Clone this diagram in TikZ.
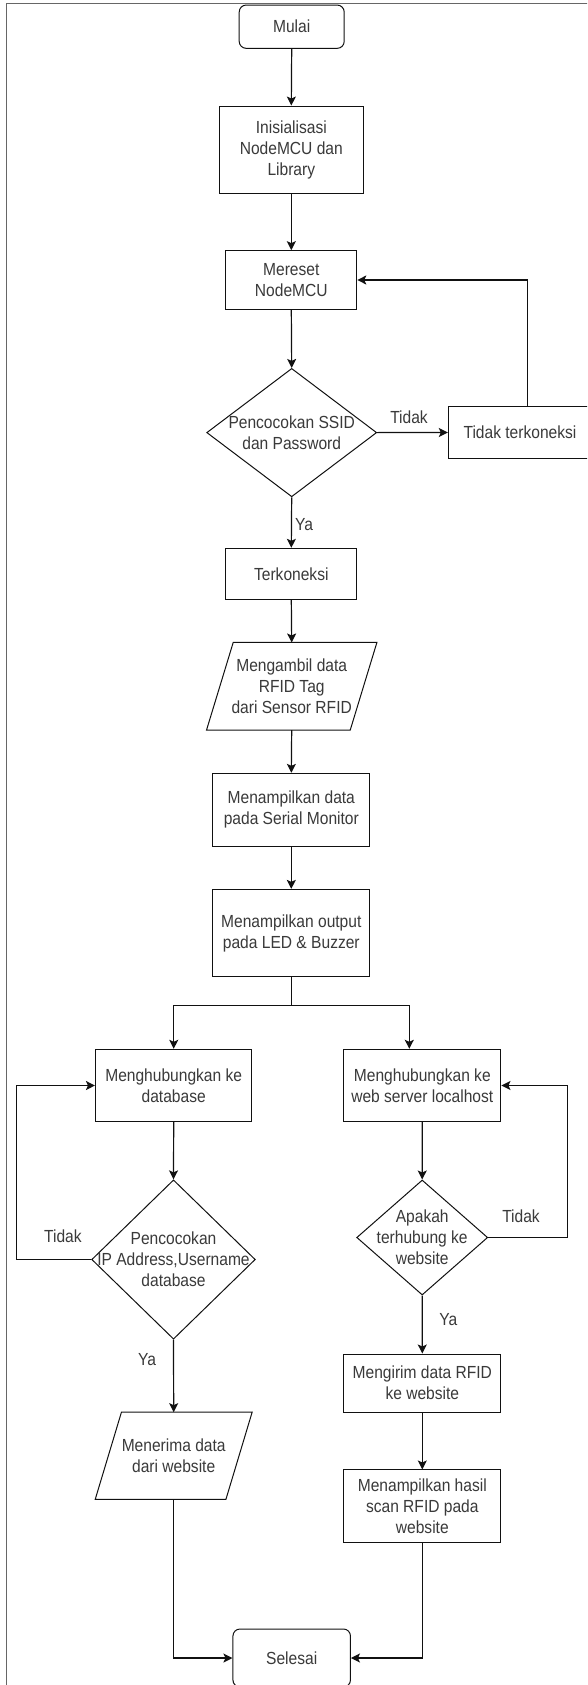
\documentclass[tikz,border=0pt]{standalone}
\usepackage{fontspec}
\setmainfont{Liberation Sans}[FakeStretch=0.89]
\usetikzlibrary{shapes.geometric,arrows.meta}
\definecolor{txt}{HTML}{3A3A3A}
\definecolor{ln}{HTML}{111111}
\definecolor{frm}{HTML}{666666}
\tikzset{
  every node/.style={font=\fontsize{17.5}{21}\selectfont, text=txt, align=center, inner sep=0pt},
  bx/.style n args={2}{draw=ln, line width=1pt, rectangle, minimum width=#1, minimum height=#2},
  term/.style n args={2}{draw=ln, line width=1pt, rectangle, rounded corners=7pt, minimum width=#1, minimum height=#2},
  dia/.style n args={2}{draw=ln, line width=1pt, diamond, minimum width=#1, minimum height=#2},
  pbox/.style n args={2}{rectangle, minimum width=#1, minimum height=#2},
  pshape/.style={draw=ln, line width=1pt, line join=miter},
  arr/.style={draw=ln, line width=1.2pt, -{Stealth[length=9pt,width=9pt,inset=2pt]}},
  ln/.style={draw=ln, line width=1.2pt},
  lbl/.style={font=\fontsize{17.5}{21}\selectfont}
}
\begin{document}
\begin{tikzpicture}[x=1pt,y=-1pt]
\useasboundingbox (0,0) rectangle (587,1685);
\clip (0,0) rectangle (587,1685);
\fill[white] (0,0) rectangle (587,1685);
\draw[frm, line width=1pt] (6,4) rectangle (640,1740);

% nodes
\node[term={105}{43.3}] (mulai) at (291.7,26.7) {Mulai};
\node[bx={144}{87.3}] (init) at (291.3,149.7) {Inisialisasi\\NodeMCU dan\\Library};
\node[bx={131}{58.7}] (reset) at (291.3,280) {Mereset\\NodeMCU};
\node[dia={170}{128.4}] (ssid) at (291.7,432.6) {};
\node (ssidt) at (291.7,432.6) {Pencocokan SSID\\dan Password};
\node[bx={143.4}{51.6}] (tdk) at (520,432.5) {Tidak terkoneksi};
\node[bx={130.7}{51}] (konek) at (291.3,573.8) {Terkoneksi};
\node[pbox={170}{87.3}] (ambil) at (291.7,686.3) {Mengambil data\\RFID Tag\\dari Sensor RFID};
\draw[pshape] ([xshift=26.7pt]ambil.north west) -- (ambil.north east) -- ([xshift=-26.7pt]ambil.south east) -- (ambil.south west) -- cycle;
\node[bx={157.3}{72.7}] (serial) at (291.3,809.7) {Menampilkan data\\pada Serial Monitor};
\node[bx={157.3}{87.3}] (output) at (291.3,933) {Menampilkan output\\pada LED \& Buzzer};
\node[bx={156.5}{72.4}] (db) at (173.7,1085.5) {Menghubungkan ke\\database};
\node[bx={157.3}{72.4}] (web) at (422.3,1085.5) {Menghubungkan ke\\web server localhost};
\node[dia={163.6}{159.3}] (dbq) at (173.5,1259.5) {};
\node (dbqt) at (173.5,1259.5) {Pencocokan\\IP Address,Username\\database};
\node[dia={131}{115}] (webq) at (422.2,1237.5) {};
\node (webqt) at (422.2,1237.5) {Apakah\\terhubung ke\\website};
\node[pbox={156.5}{86.7}] (terima) at (173.7,1455.7) {Menerima data\\dari website};
\draw[pshape] ([xshift=26.2pt]terima.north west) -- (terima.north east) -- ([xshift=-26.2pt]terima.south east) -- (terima.south west) -- cycle;
\node[bx={157.3}{58}] (kirim) at (422.3,1383) {Mengirim data RFID\\ke website};
\node[bx={157.3}{72.7}] (hasil) at (422.3,1506.3) {Menampilkan hasil\\scan RFID pada\\website};
\node[term={117.5}{58}] (selesai) at (291.7,1658) {Selesai};

% labels
\node[lbl] (l1) at (409,417) {Tidak};
\node[lbl] (l2) at (304,525) {Ya};
\node[lbl] (l3) at (62.9,1236.7) {Tidak};
\node[lbl] (l4) at (147,1360) {Ya};
\node[lbl] (l5) at (521,1216.7) {Tidak};
\node[lbl] (l6) at (448.3,1320) {Ya};

% connectors
\draw[arr] (mulai.south) -- (init.north);
\draw[arr] (init.south) -- (reset.north);
\draw[arr] (reset.south) -- (ssid.north);
\draw[arr] (ssid.east) -- (tdk.west);
\draw[arr] ([xshift=7.3pt]tdk.north) |- (reset.east);
\draw[arr] (ssid.south) -- (konek.north);
\draw[arr] (konek.south) -- (ambil.north);
\draw[arr] (ambil.south) -- (serial.north);
\draw[arr] (serial.south) -- (output.north);
\coordinate (br) at (291.3,1005.5);
\draw[ln] (output.south) -- (br);
\draw[arr] (br) -| (db.north);
\draw[arr] (br) -| ([xshift=-13pt]web.north);
\draw[arr] (db.south) -- (dbq.north);
\draw[arr] (dbq.west) -- ++(-74.9,0) |- (db.west);
\draw[arr] (dbq.south) -- (terima.north);
\draw[arr] (web.south) -- (webq.north);
\draw[arr] (webq.east) -- ++(79,0) |- (web.east);
\draw[arr] (webq.south) -- (kirim.north);
\draw[arr] (kirim.south) -- (hasil.north);
\draw[arr] (terima.south) |- (selesai.west);
\draw[arr] (hasil.south) |- (selesai.east);
\end{tikzpicture}
\end{document}
